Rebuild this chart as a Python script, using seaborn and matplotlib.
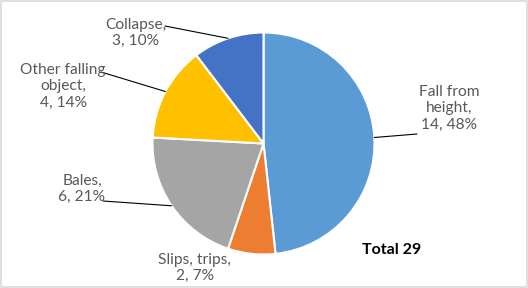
import matplotlib
matplotlib.use("Agg")
import matplotlib.pyplot as plt
import seaborn as sns
import numpy as np

categories = ["Fall from height", "Slips, trips", "Bales", "Other falling object", "Collapse"]
values = [14, 2, 6, 4, 3]
label_texts = ["Fall from\nheight,\n14, 48%", "Slips, trips,\n2, 7%", "Bales,\n6, 21%",
               "Other falling\nobject,\n4, 14%", "Collapse,\n3, 10%"]
colors = ["#5B9BD5", "#ED7D31", "#A5A5A5", "#FFC000", "#4472C4"]
total_text = "Total 29"

sns.set_theme(style="white")
plt.rcParams['font.family'] = ['Lato', 'DejaVu Sans']

W, H = 528, 288
fig = plt.figure(figsize=(W / 100, H / 100), dpi=100)
ax = fig.add_axes([0, 0, 1, 1])

cx, cy, r = 263.5, H - 143.5, 111
wedges, _ = ax.pie(values, colors=sns.color_palette(colors), startangle=90, counterclock=False,
                   center=(cx, cy), radius=r, frame=True,
                   wedgeprops=dict(edgecolor="white", linewidth=1.5))
ax.set_xlim(0, W)
ax.set_ylim(0, H)
ax.set_aspect("equal")
ax.axis("off")

# label positions (pixel coords, y from top) and leader-line end points
label_pos = [(449, 108), (195, 268), (82, 189), (63, 86), (136, 33)]
leader_end = [(417, 134), None, (103, 201), (101, 72), (165, 26)]

tot = sum(values)
cum = 0
for i, v in enumerate(values):
    mid = 90 - (cum + v / 2) / tot * 360
    cum += v
    lx, ly = label_pos[i]
    ax.text(lx, H - ly, label_texts[i], ha="center", va="center", fontsize=11.2,
            color="#595959", linespacing=1.22)
    if leader_end[i] is not None:
        ex, ey = leader_end[i]
        px = cx + r * np.cos(np.radians(mid))
        py = cy + r * np.sin(np.radians(mid))
        ax.plot([px, ex], [py, H - ey], color="black", lw=0.8)

ax.text(392, H - 250, total_text, ha="center", va="center", fontsize=11.5,
        fontweight="bold", color="black")

border = plt.Rectangle((0.5, 1.5), W - 1.5, H - 2, fill=False, edgecolor="#D9D9D9", lw=1.2)
ax.add_patch(border)

fig.savefig("out.png", dpi=100)
